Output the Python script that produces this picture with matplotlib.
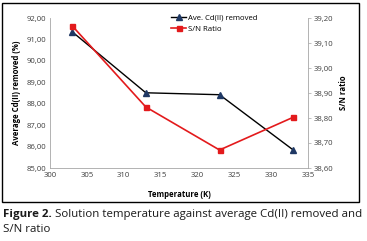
import matplotlib
matplotlib.use("Agg")
import matplotlib.pyplot as plt
from matplotlib.patches import Rectangle
from matplotlib.ticker import FuncFormatter

temperature = [303, 313, 323, 333]
cd_removed = [91.36, 88.51, 88.42, 85.84]
sn_ratio = [39.169, 38.844, 38.672, 38.803]

left_ticks = [85, 86, 87, 88, 89, 90, 91, 92]
right_ticks = [38.6, 38.7, 38.8, 38.9, 39.0, 39.1, 39.2]
x_ticks = [300, 305, 310, 315, 320, 325, 330, 335]

plt.rcParams['font.family'] = ['Open Sans', 'DejaVu Sans']

W, H = 367, 241
fig = plt.figure(figsize=(W / 100, H / 100), dpi=100)
ax = fig.add_axes([50 / W, 1 - 168 / H, (308 - 50) / W, 150 / H])
ax2 = ax.twinx()

fs = 5.6
grey = '#a6a6a6'

l1, = ax.plot(temperature, cd_removed, color='black', lw=1.0, marker='^', ms=3.8,
              markerfacecolor='#1f3864', markeredgecolor='#1f3864', label='Ave. Cd(II) removed')
l2, = ax2.plot(temperature, sn_ratio, color='#e31a1c', lw=1.2, marker='s', ms=3.6,
               markerfacecolor='#e31a1c', markeredgecolor='#e31a1c', label='S/N Ratio')

ax.set_xlim(300, 335)
ax.set_ylim(85, 92)
ax2.set_ylim(38.6, 39.2)
ax.set_xticks(x_ticks)
ax.set_yticks(left_ticks)
ax2.set_yticks(right_ticks)

comma2 = FuncFormatter(lambda v, p: f"{v:.2f}".replace('.', ','))
ax.yaxis.set_major_formatter(comma2)
ax2.yaxis.set_major_formatter(comma2)

for a in (ax, ax2):
    a.spines['top'].set_visible(False)
    for s in ('left', 'right', 'bottom'):
        a.spines[s].set_color(grey)
        a.spines[s].set_linewidth(0.6)
    a.tick_params(labelsize=fs, colors='#404040', length=0, pad=3)
ax2.spines['left'].set_visible(False)
ax.spines['right'].set_visible(False)
ax2.spines['bottom'].set_visible(False)
ax2.tick_params(axis='y', length=2, width=0.5, color=grey, pad=2)

ax.set_ylabel('Average Cd(II) removed (%)', fontsize=fs, fontweight='bold', labelpad=4)
ax2.set_ylabel('S/N ratio', fontsize=fs, fontweight='bold', labelpad=4)
ax.set_xlabel('Temperature (K)', fontsize=fs, fontweight='bold', labelpad=8)

ax.legend(handles=[l1, l2], loc='upper left', bbox_to_anchor=((170 - 50) / 258, 1.03), frameon=False,
          fontsize=fs, handlelength=2.0, handletextpad=0.15, labelspacing=0.45, borderpad=0.1,
          borderaxespad=0.0)

fig.patches.append(Rectangle((2 / W, 1 - 202 / H), 357 / W, 199 / H, transform=fig.transFigure,
                             fill=False, edgecolor='black', lw=1.0))

cap_fs = 8.25
t1 = fig.text(3 / W, 1 - 214 / H, 'Figure 2.', fontsize=cap_fs, fontweight='bold', color='#1a1a1a', va='center')
fig.canvas.draw()
bb = t1.get_window_extent(renderer=fig.canvas.get_renderer())
fig.text((bb.x1 + 3) / W, 1 - 214 / H, 'Solution temperature against average Cd(II) removed and',
         fontsize=cap_fs, color='#1a1a1a', va='center')
fig.text(3 / W, 1 - 229 / H, 'S/N ratio', fontsize=cap_fs, color='#1a1a1a', va='center')

fig.savefig('out.png', dpi=100)
